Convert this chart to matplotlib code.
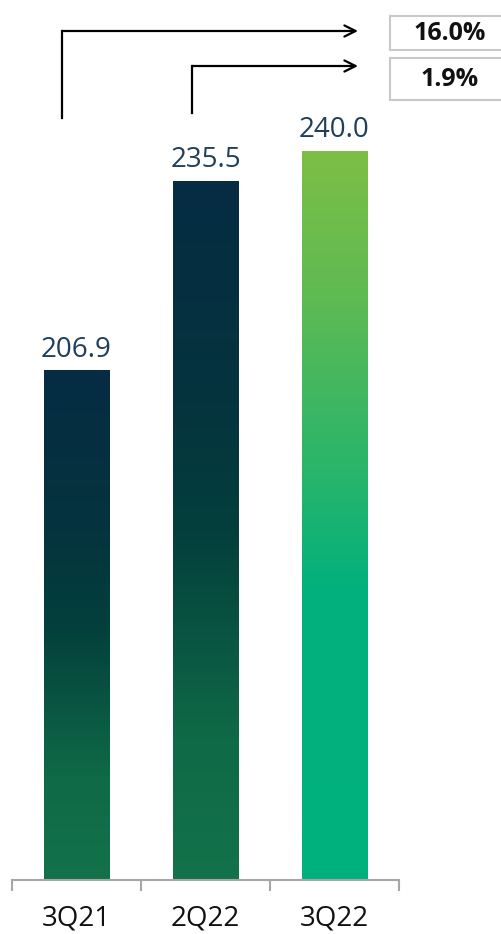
import numpy as np
import matplotlib.pyplot as plt
from matplotlib.colors import LinearSegmentedColormap

# Data
quarters = ['3Q21', '2Q22', '3Q22']
values = [206.9, 235.5, 240.0]
growth_labels = ['16.0%', '1.9%']

plt.rcParams['font.family'] = ['Open Sans', 'DejaVu Sans']

W, H = 502, 934
fig = plt.figure(figsize=(W / 100, H / 100), dpi=100)

# axes placed in pixel terms: x 12..399, baseline at y=880
ax = fig.add_axes([12 / W, (H - 880) / H, 387 / W, 795 / H])
ax.set_xlim(-0.5, 2.5)
ax.set_ylim(130, 250)

dark = LinearSegmentedColormap.from_list('dark', [
    (0.0, '#062c43'), (0.3, '#05333f'), (0.5, '#033f3c'),
    (0.8, '#0f6a47'), (1.0, '#13724a')])
green = LinearSegmentedColormap.from_list('green', [
    (0.0, '#7cbf45'), (0.2, '#5fba53'), (0.48, '#1fb46f'),
    (0.6, '#03b07d'), (1.0, '#00b07d')])
cmaps = [dark, dark, green]

bars = ax.bar(range(len(quarters)), values, width=0.51, color='none', zorder=2)
grad = np.linspace(0, 1, 256).reshape(-1, 1)
for b, cm in zip(bars, cmaps):
    x0, y0 = b.get_x(), b.get_y()
    x1, y1 = x0 + b.get_width(), y0 + b.get_height()
    ax.imshow(grad, cmap=cm, aspect='auto', extent=(x0, x1, 130, y1),
              origin='upper', zorder=1)

ax.set_xlim(-0.5, 2.5)
ax.set_ylim(130, 250)

for i, v in enumerate(values):
    ax.annotate(f'{v:.1f}', (i, v), xytext=(0, 5), textcoords='offset points',
                ha='center', va='bottom', fontsize=20, color='#1f3f5b')

for s in ['top', 'right', 'left']:
    ax.spines[s].set_visible(False)
ax.spines['bottom'].set_color('#a6a6a6')
ax.spines['bottom'].set_linewidth(1.5)
ax.set_yticks([])
ax.set_xticks(range(len(quarters)))
ax.set_xticklabels(quarters, fontsize=20, color='#111111')
ax.tick_params(axis='x', which='major', length=0, pad=18)
ax.set_xticks([-0.5, 0.5, 1.5, 2.5], minor=True)
ax.tick_params(axis='x', which='minor', length=8, width=1.5, color='#a6a6a6')

# growth arrows and boxes (figure pixel coords, y from top)
def px(x, y):
    return (x / W, 1 - y / H)

arrows = [(62, 118, 31), (192, 113, 66)]
for (x, ystart, ytop) in arrows:
    fig.add_artist(plt.Line2D([px(x, 0)[0]] * 2, [px(0, ystart)[1], px(0, ytop)[1]],
                              transform=fig.transFigure, color='black', lw=1.6))
    fig.add_artist(plt.matplotlib.patches.FancyArrowPatch(
        px(x, ytop), px(358, ytop), transform=fig.transFigure,
        arrowstyle='->,head_length=8,head_width=4', color='black', lw=1.6,
        shrinkA=0, shrinkB=0))

boxes = [(16, 50), (58, 100)]
for (yt, yb), lab in zip(boxes, growth_labels):
    fig.add_artist(plt.Rectangle(px(390, yb), 120 / W, (yb - yt) / H,
                                 transform=fig.transFigure, facecolor='white',
                                 edgecolor='#c8c8c8', lw=1.5))
    fig.text(px(450, 0)[0], px(0, (yt + yb) / 2)[1], lab, ha='center', va='center',
             fontsize=18, fontweight='bold', color='#111111')

fig.savefig('out.png', dpi=100)
